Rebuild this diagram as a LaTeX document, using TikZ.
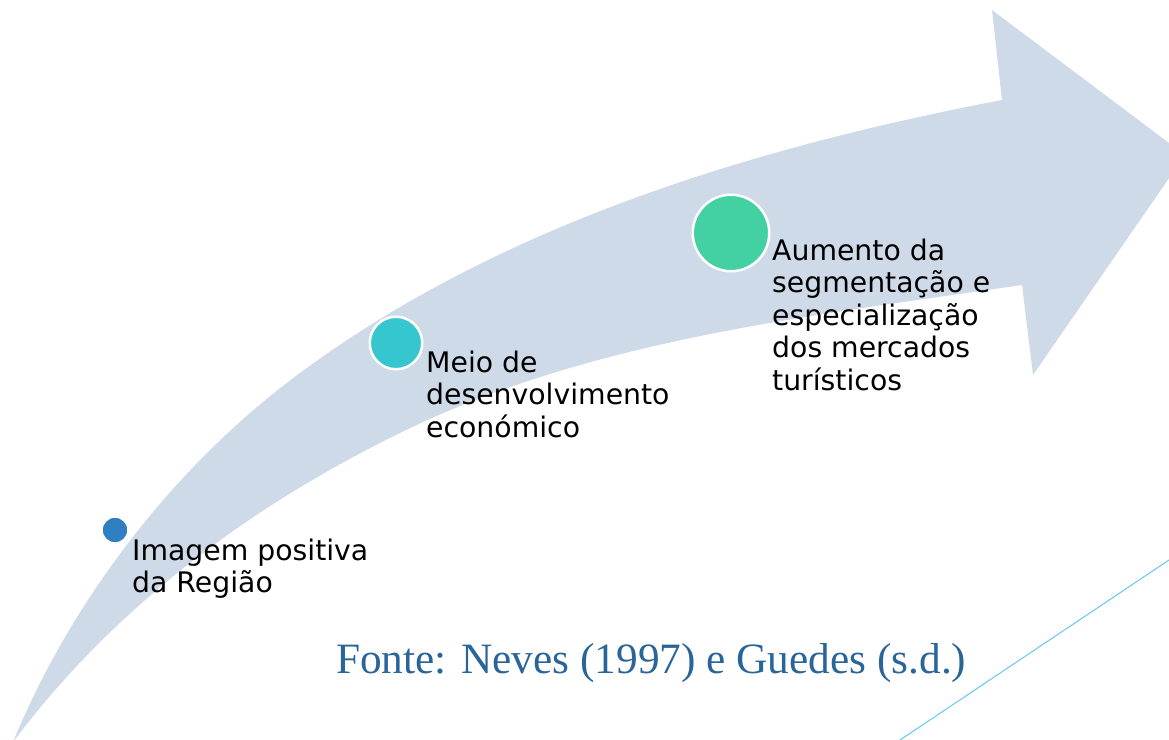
\documentclass[tikz,border=0pt]{standalone}
\usepackage{fontspec}
\setmainfont{DejaVu Sans}
\newfontfamily\sourcefont{Liberation Serif}
\definecolor{band}{RGB}{207,218,233}
\definecolor{stageone}{RGB}{46,128,195}
\definecolor{stagetwo}{RGB}{53,198,208}
\definecolor{stagethree}{RGB}{67,208,162}
\definecolor{sourceblue}{RGB}{41,101,153}
\definecolor{lineblue}{RGB}{100,200,240}
\tikzstyle{stage}=[circle,draw=white,line width=2.5,inner sep=0]
\tikzstyle{stagetext}=[anchor=base west,align=left,inner sep=0,font=\fontsize{28.3}{32.5}\selectfont]

\begin{document}
\begin{tikzpicture}[x=1pt,y=-1pt]
  \useasboundingbox (0,0) rectangle (1169,739);
  \clip (0,0) rectangle (1169,739);

  % ARROW
  \coordinate (TAIL) at (13,742);
  \coordinate (OM)   at (300,373); % outer edge
  \coordinate (TS)   at (1002,100);
  \coordinate (TB)   at (992,10);
  \coordinate (TIP)  at (1185,155);
  \coordinate (BB)   at (1033,375);
  \coordinate (BS)   at (1022,285);
  \coordinate (IM)   at (400,433); % inner edge
  \fill[band] (TAIL) .. controls (72,599) and (175,465) .. (OM)
    .. controls (501,224) and (756,147) .. (TS)
    -- (TB) -- (TIP) -- (BB) -- (BS)
    .. controls (811,316) and (591,339) .. (IM)
    .. controls (220,521) and (97,630) .. cycle;

  % STAGES
  \node[stage,fill=stageone,minimum size=27]     (s1) at (115,530) {};
  \node[stage,fill=stagetwo,minimum size=52.5]   (s2) at (396,343) {};
  \node[stage,fill=stagethree,minimum size=76.5] (s3) at (731,233) {};

  % base = last line
  \node[stagetext] (t1) at (132,592.5) {Imagem positiva\\da Região};
  \node[stagetext] (t2) at (426,437) {Meio de\\desenvolvimento\\económico};
  \node[stagetext] (t3) at (772,390) {Aumento da\\segmentação e\\especialização\\dos mercados\\turísticos};

  % SOURCE
  \node[anchor=base west,inner sep=0,text=sourceblue,font=\sourcefont\fontsize{43.3}{50}\selectfont]
    (src) at (336,673) {Fonte: Neves (1997) e Guedes (s.d.)};

  % LINE
  \coordinate (LA) at (900,740);
  \coordinate (LB) at (1175,556);
  \draw[lineblue,line width=1] (LA) -- (LB);
\end{tikzpicture}
\end{document}
